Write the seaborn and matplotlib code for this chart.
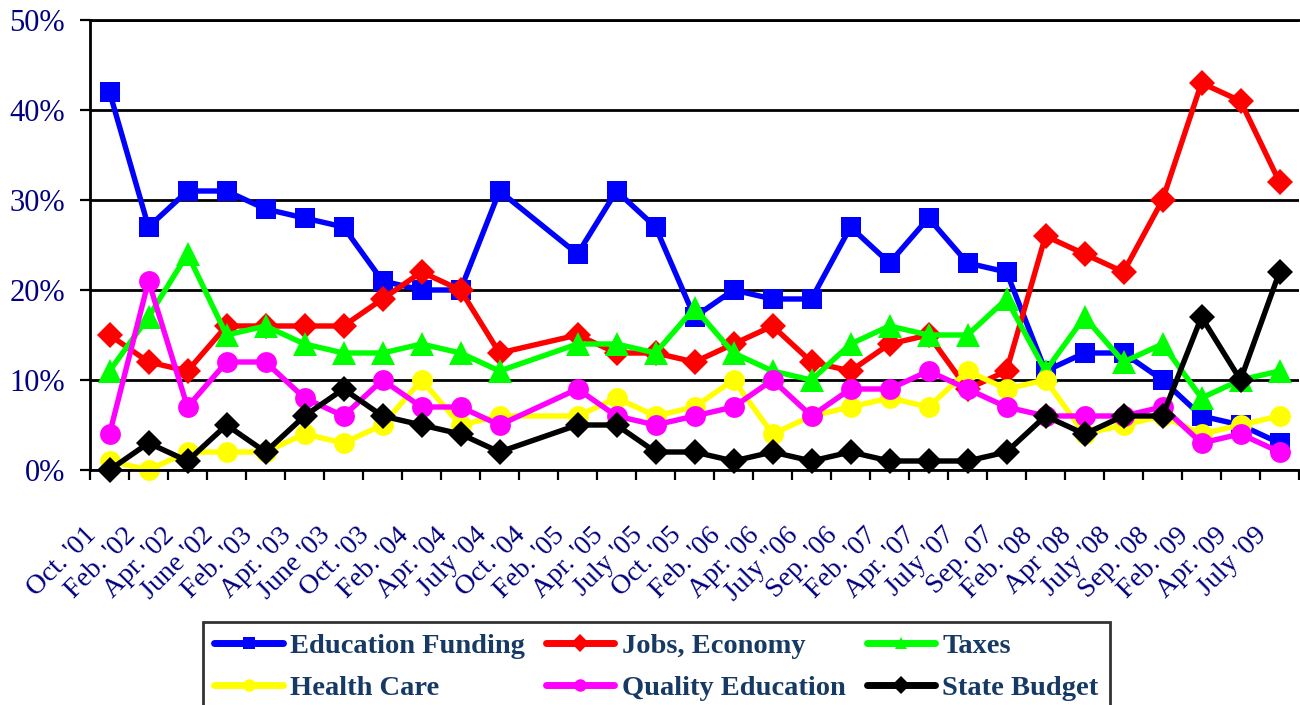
import matplotlib
matplotlib.use("Agg")
import matplotlib.pyplot as plt
import matplotlib.transforms as mtransforms
from matplotlib.ticker import FixedLocator
import seaborn as sns
import numpy as np
import pandas as pd

nan = np.nan

# ---------------- data ----------------
dates = ["Oct. '01", "Feb. '02", "Apr. '02", "June '02", "Feb. '03", "Apr. '03",
         "June '03", "Oct. '03", "Feb. '04", "Apr. '04", "July '04", "Oct. '04",
         "Feb. '05", "Apr. '05", "July '05", "Oct. '05", "Feb. '06", "Apr. '06",
         "July \"06", "Sep. '06", "Feb. '07", "Apr. '07", "July '07", "Sep. 07",
         "Feb. '08", "Apr '08", "July '08", "Sep. '08", "Feb. '09", "Apr. '09",
         "July '09"]

education_funding = [42, 27, 31, 31, 29, 28, 27, 21, 20, 20, 31, nan, 24, 31, 27, 17,
                     20, 19, 19, 27, 23, 28, 23, 22, 11, 13, 13, 10, 6, 5, 3]
jobs_economy = [15, 12, 11, 16, 16, 16, 16, 19, 22, 20, 13, nan, 15, 13, 13, 12,
                14, 16, 12, 11, 14, 15, 9, 11, 26, 24, 22, 30, 43, 41, 32]
taxes = [11, 17, 24, 15, 16, 14, 13, 13, 14, 13, 11, nan, 14, 14, 13, 18,
         13, 11, 10, 14, 16, 15, 15, 19, 11, 17, 12, 14, 8, 10, 11]
health_care = [1, 0, 2, 2, 2, 4, 3, 5, 10, 5, 6, nan, 6, 8, 6, 7,
               10, 4, 6, 7, 8, 7, 11, 9, 10, 4, 5, 6, 4, 5, 6]
quality_education = [4, 21, 7, 12, 12, 8, 6, 10, 7, 7, 5, nan, 9, 6, 5, 6,
                     7, 10, 6, 9, 9, 11, 9, 7, 6, 6, 6, 7, 3, 4, 2]
state_budget = [0, 3, 1, 5, 2, 6, 9, 6, 5, 4, 2, nan, 5, 5, 2, 2,
                1, 2, 1, 2, 1, 1, 1, 2, 6, 4, 6, 6, 17, 10, 22]

issues = ["Education Funding", "Jobs, Economy", "Taxes",
          "Health Care", "Quality Education", "State Budget"]
y_ticks = [0, 10, 20, 30, 40, 50]
y_tick_labels = ["0%", "10%", "20%", "30%", "40%", "50%"]

# ---------------- styles ----------------
colors = {"Education Funding": "#0000FF", "Jobs, Economy": "#FF0000",
          "Taxes": "#00FF00", "Health Care": "#FFFF00",
          "Quality Education": "#FF00FF", "State Budget": "#000000"}
markers = {"Education Funding": "s", "Jobs, Economy": "D", "Taxes": "^",
           "Health Care": "o", "Quality Education": "o", "State Budget": "D"}
msizes = {"Education Funding": 14, "Jobs, Economy": 13.5, "Taxes": 17,
          "Health Care": 15, "Quality Education": 15, "State Budget": 13.5}
navy = "#000080"
legend_color = "#173A64"

wide = pd.DataFrame({
    "pos": np.arange(len(dates)),
    "Education Funding": education_funding,
    "Jobs, Economy": jobs_economy,
    "Taxes": taxes,
    "Health Care": health_care,
    "Quality Education": quality_education,
    "State Budget": state_budget,
})
long = wide.melt(id_vars="pos", var_name="issue", value_name="value").dropna()

sns.set_style("white")
plt.rcParams["font.family"] = ["Liberation Serif", "DejaVu Serif"]

fig = plt.figure(figsize=(13, 7.05), dpi=100)
ax = fig.add_axes([90 / 1300, 1 - 470 / 705, 1209 / 1300, 450 / 705])

sns.lineplot(data=long, x="pos", y="value", hue="issue", style="issue",
             hue_order=issues, style_order=issues, palette=colors,
             markers=markers, dashes=False, estimator=None, sort=True,
             linewidth=3.9, markeredgewidth=0, legend="full", ax=ax)

data_lines = [ln for ln in ax.lines if len(ln.get_xdata()) > 0]
for ln, name in zip(data_lines, issues):
    ln.set_markersize(msizes[name])
    ln.set_markeredgewidth(0)
    ln.set_clip_on(False)
    ln.set_solid_joinstyle("miter")

# axes
ax.set_xlim(-0.5, len(dates) - 0.5)
ax.set_ylim(0, 50)
ax.set_xlabel("")
ax.set_ylabel("")

ax.set_xticks(np.arange(len(dates)))
ax.set_xticklabels(dates, rotation=45, ha="right", va="top",
                   fontsize=20, color=navy)
ax.xaxis.set_minor_locator(FixedLocator(np.arange(-0.5, len(dates), 1.0)))
ax.tick_params(axis="x", which="major", length=0, pad=38)
ax.tick_params(axis="x", which="minor", length=7, width=1.6, color="black",
               direction="out", bottom=True)
offset = mtransforms.ScaledTranslation(-8 / 100, 0, fig.dpi_scale_trans)
for lab in ax.get_xticklabels():
    lab.set_transform(lab.get_transform() + offset)

ax.set_yticks(y_ticks)
ax.set_yticklabels(y_tick_labels, fontsize=22, color=navy)
ax.tick_params(axis="y", which="major", length=7, width=1.6, color="black",
               direction="out", left=True, pad=11)

ax.yaxis.grid(True, color="black", linewidth=2)
ax.xaxis.grid(False)
ax.set_axisbelow(True)

for side in ["left", "bottom", "top"]:
    ax.spines[side].set_visible(True)
    ax.spines[side].set_color("black")
    ax.spines[side].set_linewidth(2)
ax.spines["right"].set_visible(False)

# legend (row-wise order like the reference)
handles, labels = ax.get_legend_handles_labels()
if ax.get_legend() is not None:
    ax.get_legend().remove()
order = [0, 3, 1, 4, 2, 5]
handles = [handles[i] for i in order]
labels = [labels[i] for i in order]
leg = fig.legend(handles, labels, loc="upper left",
                 bbox_to_anchor=(203 / 1300, 1 - 622 / 705), ncol=3,
                 frameon=True, fancybox=False, edgecolor="black",
                 handlelength=2.4, handletextpad=0.25, columnspacing=0.75,
                 borderpad=0.4, labelspacing=0.55, borderaxespad=0,
                 prop={"family": "Liberation Serif", "weight": "bold", "size": 20.5})
leg.get_frame().set_linewidth(2)
for t in leg.get_texts():
    t.set_color(legend_color)
for ln in leg.get_lines():
    ln.set_linewidth(5)
    ln.set_markersize(9)
    ln.set_markeredgewidth(0)

fig.savefig("out.png", dpi=100)
